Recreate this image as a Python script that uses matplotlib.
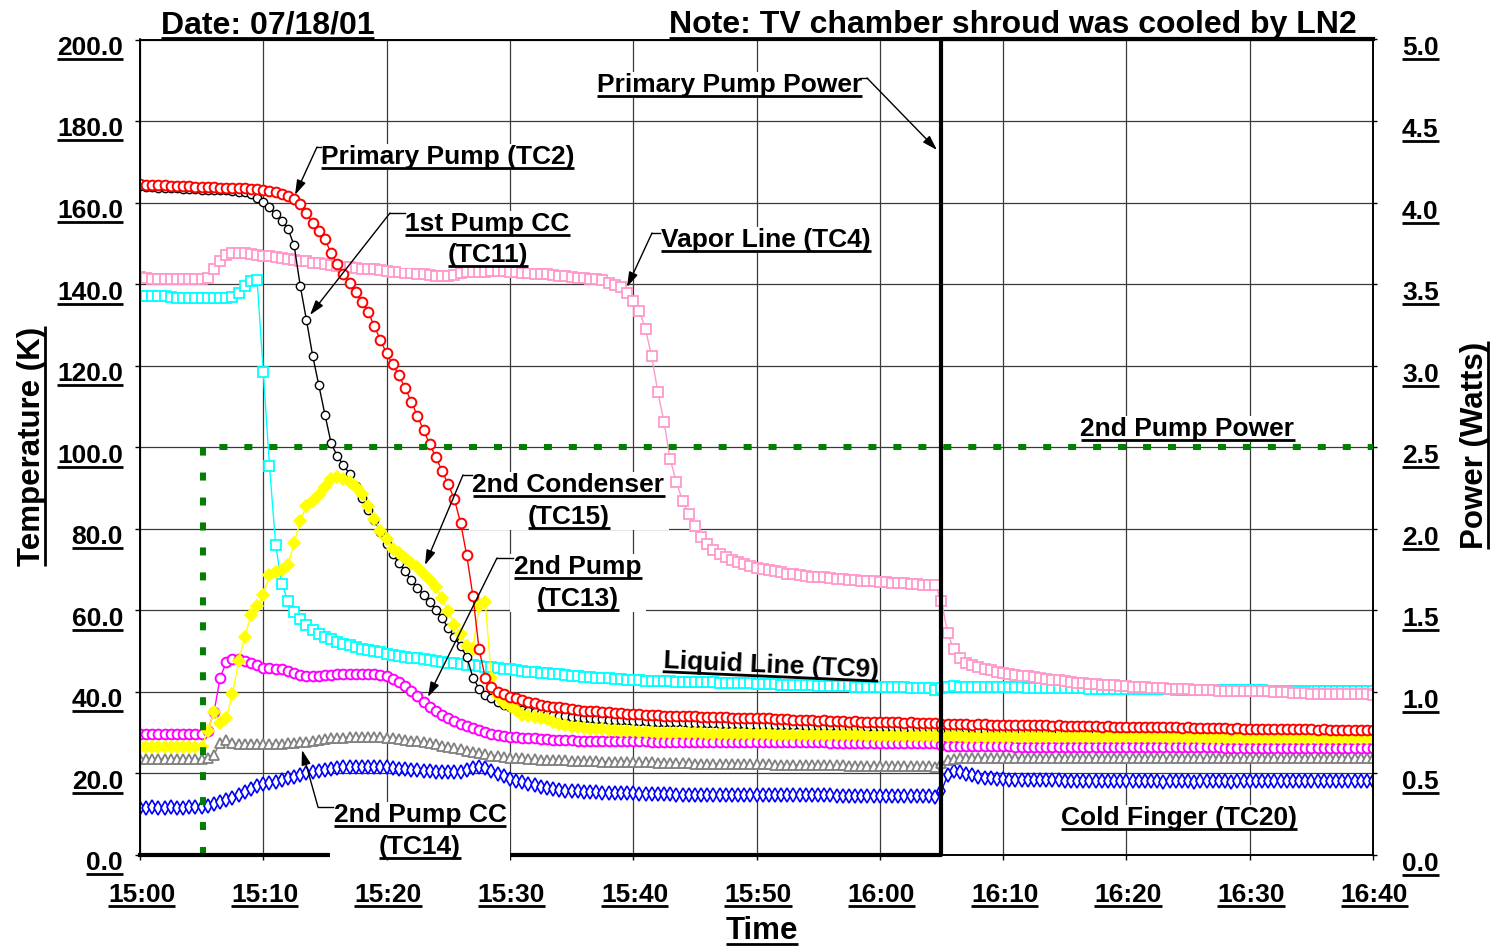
import numpy as np
import matplotlib
matplotlib.use("Agg")
import matplotlib.pyplot as plt
from matplotlib.lines import Line2D
from matplotlib.patches import Rectangle, FancyArrowPatch, ArrowStyle
from matplotlib.transforms import IdentityTransform, Bbox

W, H, DPI = 1492, 947, 100

# one reading every 30 s, minutes after 15:00
minutes = np.arange(0, 100.5, 0.5)

# Primary Pump (TC2)
tc2 = [
    164.5, 164.4, 164.3, 164.3, 164.2, 164.1, 164.0, 164.0, 164.0, 163.9, 163.9, 163.8, 163.8, 163.7, 163.7, 163.6, 163.6, 163.5, 163.4, 163.3,
    163.2, 162.9, 162.6, 162.2, 161.6, 160.8, 159.7, 157.4, 155.0, 153.0, 151.0, 147.6, 145.0, 142.6, 140.3, 138.0, 135.7, 133.2, 129.7, 126.3,
    123.0, 120.3, 117.6, 114.6, 111.2, 107.7, 104.2, 100.7, 97.5, 94.2, 90.9, 87.2, 81.5, 73.5, 63.5, 50.5, 43.5, 41.2, 40.0, 39.4,
    38.8, 38.4, 38.0, 37.6, 37.2, 36.9, 36.6, 36.4, 36.2, 36.0, 35.8, 35.6, 35.4, 35.3, 35.2, 35.1, 35.0, 34.9, 34.8, 34.7,
    34.6, 34.5, 34.4, 34.4, 34.3, 34.2, 34.1, 34.1, 34.0, 34.0, 34.0, 33.9, 33.9, 33.8, 33.9, 33.8, 33.7, 33.7, 33.6, 33.6,
    33.6, 33.5, 33.5, 33.4, 33.3, 33.4, 33.2, 33.2, 33.1, 33.0, 32.9, 33.0, 32.9, 32.8, 32.8, 32.7, 32.8, 32.7, 32.6, 32.6,
    32.6, 32.5, 32.6, 32.5, 32.4, 32.5, 32.4, 32.3, 32.4, 32.3, 32.1, 32.2, 32.2, 32.1, 32.1, 32.0, 32.2, 32.1, 32.0, 32.0,
    31.9, 32.0, 31.9, 31.9, 31.8, 31.9, 31.8, 31.8, 31.7, 31.8, 31.7, 31.7, 31.6, 31.7, 31.6, 31.6, 31.5, 31.6, 31.5, 31.5,
    31.5, 31.4, 31.5, 31.4, 31.4, 31.3, 31.4, 31.3, 31.3, 31.2, 31.3, 31.2, 31.2, 31.1, 31.2, 31.1, 31.1, 31.0, 31.1, 31.0,
    31.0, 31.0, 30.9, 31.0, 30.9, 30.9, 30.8, 30.9, 30.8, 30.8, 30.8, 30.7, 30.8, 30.7, 30.7, 30.7, 30.6, 30.7, 30.6, 30.6, 30.6,
]
# 1st Pump CC (TC11)
tc11 = [
    164.0, 163.9, 163.8, 163.7, 163.6, 163.5, 163.5, 163.4, 163.3, 163.3, 163.2, 163.2, 163.1, 163.0, 163.0, 162.9, 162.7, 162.5, 162.2, 161.2,
    160.1, 158.8, 157.1, 155.6, 153.6, 149.5, 139.5, 131.2, 122.5, 115.2, 108.0, 101.0, 97.8, 95.6, 93.5, 90.6, 87.6, 84.6, 82.2, 79.3,
    76.3, 73.8, 71.6, 69.6, 67.4, 65.5, 63.8, 62.0, 60.2, 58.1, 55.6, 53.5, 51.2, 48.6, 43.5, 40.8, 39.3, 38.4, 37.5, 36.9,
    36.3, 35.9, 35.6, 35.3, 35.0, 34.8, 34.6, 34.4, 34.2, 34.0, 33.9, 33.8, 33.6, 33.5, 33.4, 33.3, 33.2, 33.1, 33.0, 33.0,
    32.9, 32.8, 32.8, 32.7, 32.7, 32.6, 32.6, 32.5, 32.5, 32.4, 32.4, 32.3, 32.3, 32.3, 32.2, 32.2, 32.1, 32.1, 32.1, 32.0,
    32.0, 32.0, 31.9, 31.9, 31.9, 31.8, 31.8, 31.8, 31.7, 31.7, 31.7, 31.6, 31.6, 31.6, 31.5, 31.5, 31.5, 31.4, 31.4, 31.4,
    31.3, 31.3, 31.3, 31.2, 31.2, 31.2, 31.1, 31.1, 31.1, 31.0, 30.9, 31.0, 30.9, 30.9, 30.8, 30.8, 30.8, 30.7, 30.7, 30.7,
    30.6, 30.6, 30.6, 30.5, 30.5, 30.5, 30.4, 30.4, 30.4, 30.3, 30.3, 30.3, 30.2, 30.2, 30.2, 30.1, 30.1, 30.1, 30.0, 30.0,
    30.0, 30.0, 29.9, 29.9, 29.9, 29.9, 29.8, 29.8, 29.8, 29.8, 29.7, 29.7, 29.7, 29.7, 29.6, 29.6, 29.6, 29.6, 29.5, 29.5,
    29.5, 29.5, 29.5, 29.4, 29.4, 29.4, 29.4, 29.4, 29.3, 29.3, 29.3, 29.3, 29.3, 29.2, 29.2, 29.2, 29.2, 29.2, 29.1, 29.1, 29.1,
]
# Vapor Line (TC4)
tc4 = [
    141.7, 141.5, 141.3, 141.2, 141.2, 141.2, 141.2, 141.2, 141.2, 141.2, 141.3, 141.5, 143.6, 145.8, 147.2, 147.7, 147.7, 147.6, 147.4, 147.2,
    147.0, 146.8, 146.6, 146.4, 146.2, 146.0, 145.8, 145.6, 145.3, 145.1, 144.9, 144.7, 144.5, 144.3, 144.1, 144.0, 143.8, 143.7, 143.6, 143.4,
    143.3, 143.1, 143.0, 142.8, 142.7, 142.5, 142.4, 142.2, 142.1, 142.0, 141.9, 142.3, 142.8, 142.9, 143.0, 143.1, 143.1, 143.2, 143.2, 143.2,
    143.0, 142.9, 142.8, 142.7, 142.6, 142.5, 142.4, 142.2, 142.1, 141.9, 141.7, 141.5, 141.4, 141.3, 141.2, 140.9, 140.3, 139.8, 139.2, 137.8,
    135.8, 133.5, 128.9, 122.3, 113.5, 106.2, 97.0, 91.5, 86.9, 83.7, 80.6, 78.0, 76.2, 74.8, 73.9, 73.1, 72.4, 71.8, 71.3, 70.9,
    70.4, 70.1, 69.9, 69.6, 69.3, 69.0, 68.8, 68.6, 68.5, 68.3, 68.2, 68.1, 67.9, 67.8, 67.6, 67.5, 67.4, 67.3, 67.2, 67.1,
    67.0, 66.9, 66.8, 66.7, 66.6, 66.5, 66.4, 66.3, 66.2, 66.2, 62.3, 54.5, 50.4, 48.3, 47.2, 46.6, 46.0, 45.6, 45.3, 45.0,
    44.7, 44.5, 44.2, 44.0, 43.8, 43.6, 43.4, 43.2, 43.0, 42.8, 42.6, 42.5, 42.3, 42.2, 42.0, 41.9, 41.8, 41.7, 41.6, 41.5,
    41.4, 41.3, 41.2, 41.1, 41.0, 41.0, 40.9, 40.8, 40.7, 40.7, 40.6, 40.5, 40.5, 40.4, 40.4, 40.3, 40.3, 40.3, 40.2, 40.2,
    40.2, 40.1, 40.1, 40.1, 40.0, 40.0, 40.0, 39.7, 39.7, 39.7, 39.6, 39.6, 39.6, 39.6, 39.5, 39.5, 39.5, 39.5, 39.5, 39.4, 39.3,
]
# Liquid Line (TC9)
tc9 = [
    137.2, 137.2, 137.1, 137.1, 137.0, 136.8, 136.7, 136.7, 136.6, 136.6, 136.6, 136.6, 136.6, 136.6, 136.6, 136.8, 137.9, 139.6, 140.8, 140.9,
    118.5, 95.5, 76.1, 66.5, 62.3, 59.6, 57.8, 56.3, 55.2, 54.3, 53.5, 52.9, 52.3, 51.8, 51.4, 51.0, 50.6, 50.3, 50.0, 49.7,
    49.4, 49.1, 48.9, 48.6, 48.4, 48.2, 48.0, 47.8, 47.6, 47.4, 47.2, 47.0, 46.8, 46.6, 46.5, 46.3, 46.2, 46.0, 45.8, 45.7,
    45.5, 45.4, 45.2, 45.0, 44.9, 44.7, 44.6, 44.4, 44.3, 44.1, 44.0, 43.9, 43.7, 43.6, 43.5, 43.4, 43.3, 43.2, 43.1, 43.0,
    42.9, 42.8, 42.7, 42.7, 42.6, 42.6, 42.6, 42.5, 42.5, 42.5, 42.5, 42.4, 42.4, 42.4, 42.3, 42.3, 42.3, 42.2, 42.2, 42.2,
    42.0, 42.0, 41.9, 41.9, 41.8, 41.8, 41.7, 41.7, 41.6, 41.6, 41.5, 41.5, 41.5, 41.4, 41.4, 41.4, 41.3, 41.3, 41.3, 41.2,
    41.2, 41.2, 41.1, 41.1, 41.1, 41.0, 41.0, 41.0, 40.9, 40.4, 40.9, 41.3, 41.4, 41.3, 41.3, 41.3, 41.2, 41.2, 41.2, 41.2,
    41.1, 41.1, 41.1, 41.1, 41.0, 41.0, 41.0, 41.0, 41.0, 40.9, 40.9, 40.9, 40.9, 40.9, 40.8, 40.8, 40.8, 40.8, 40.7, 40.7,
    40.7, 40.7, 40.7, 40.6, 40.6, 40.6, 40.6, 40.6, 40.5, 40.5, 40.5, 40.5, 40.5, 40.5, 40.5, 40.4, 40.4, 40.4, 40.4, 40.4,
    40.4, 40.4, 40.4, 40.3, 40.3, 40.3, 40.3, 40.3, 40.3, 40.3, 40.3, 40.3, 40.3, 40.3, 40.3, 40.3, 40.3, 40.3, 40.3, 40.3, 40.3,
]
# 2nd Condenser (TC15)
tc15 = [
    26.6, 26.6, 26.5, 26.6, 26.6, 26.6, 26.5, 26.6, 26.6, 26.6, 26.6, 30.5, 35.0, 32.4, 33.5, 39.5, 47.5, 53.5, 58.8, 61.0,
    63.7, 68.7, 69.4, 69.8, 71.1, 76.5, 82.0, 85.7, 86.8, 88.3, 90.3, 92.1, 92.6, 92.3, 91.4, 90.3, 88.5, 85.5, 82.5, 79.5,
    77.5, 75.0, 74.0, 72.8, 71.6, 70.6, 69.0, 67.4, 65.8, 63.0, 59.8, 56.3, 54.3, 51.2, 50.5, 61.0, 62.0, 43.5, 39.0, 37.2,
    36.5, 35.5, 34.3, 34.0, 33.8, 33.5, 33.3, 32.6, 32.1, 31.8, 31.5, 31.3, 31.1, 31.0, 30.9, 30.8, 30.7, 30.6, 30.5, 30.4,
    30.3, 30.2, 30.1, 30.1, 30.0, 30.0, 29.9, 29.9, 29.9, 29.8, 29.8, 29.8, 29.7, 29.7, 29.7, 29.7, 29.6, 29.6, 29.6, 29.6,
    29.6, 29.6, 29.6, 29.5, 29.5, 29.5, 29.5, 29.5, 29.5, 29.5, 29.4, 29.4, 29.4, 29.4, 29.4, 29.4, 29.4, 29.4, 29.3, 29.3,
    29.3, 29.3, 29.3, 29.3, 29.3, 29.3, 29.3, 29.2, 29.2, 29.1, 29.0, 29.1, 29.1, 29.1, 29.0, 29.0, 29.0, 29.0, 29.0, 29.0,
    29.0, 29.0, 29.0, 29.0, 29.0, 29.0, 29.0, 28.9, 29.0, 29.0, 28.9, 29.0, 28.9, 28.9, 28.9, 28.9, 28.9, 28.9, 28.9, 28.9,
    28.9, 28.9, 28.9, 28.9, 28.9, 28.9, 28.9, 28.8, 28.9, 28.9, 28.8, 28.9, 28.8, 28.8, 28.8, 28.8, 28.8, 28.8, 28.8, 28.8,
    28.8, 28.8, 28.8, 28.8, 28.8, 28.8, 28.8, 28.8, 28.8, 28.8, 28.8, 28.8, 28.8, 28.8, 28.8, 28.8, 28.8, 28.8, 28.8, 28.8, 28.8,
]
# 2nd Pump (TC13)
tc13 = [
    29.6, 29.6, 29.6, 29.6, 29.6, 29.6, 29.6, 29.6, 29.6, 29.6, 29.7, 30.5, 35.0, 43.5, 47.3, 48.1, 48.0, 47.6, 47.2, 46.5,
    45.9, 45.8, 45.7, 45.6, 45.2, 44.6, 44.2, 44.0, 44.0, 44.0, 44.1, 44.2, 44.3, 44.4, 44.4, 44.5, 44.4, 44.4, 44.3, 44.1,
    43.8, 43.2, 42.4, 41.5, 40.2, 38.9, 37.6, 36.3, 35.3, 34.4, 33.6, 32.8, 32.2, 31.7, 31.1, 30.6, 30.1, 29.7, 29.4, 29.2,
    29.0, 28.9, 28.8, 28.7, 28.6, 28.5, 28.4, 28.3, 28.2, 28.1, 28.1, 28.0, 28.0, 27.9, 27.9, 27.9, 27.9, 27.9, 27.9, 27.9,
    27.9, 27.9, 27.9, 27.8, 27.8, 27.8, 27.8, 27.8, 27.8, 27.8, 27.8, 27.7, 27.7, 27.7, 27.7, 27.7, 27.7, 27.7, 27.7, 27.7,
    27.7, 27.7, 27.6, 27.6, 27.6, 27.6, 27.6, 27.6, 27.6, 27.6, 27.6, 27.6, 27.5, 27.5, 27.5, 27.5, 27.5, 27.5, 27.5, 27.5,
    27.5, 27.5, 27.5, 27.5, 27.5, 27.5, 27.4, 27.4, 27.4, 27.4, 26.9, 26.8, 26.8, 26.8, 26.8, 26.7, 26.7, 26.7, 26.7, 26.7,
    26.7, 26.7, 26.6, 26.6, 26.6, 26.6, 26.6, 26.6, 26.6, 26.6, 26.5, 26.5, 26.5, 26.5, 26.5, 26.5, 26.5, 26.5, 26.5, 26.5,
    26.5, 26.5, 26.4, 26.4, 26.4, 26.4, 26.4, 26.4, 26.4, 26.4, 26.4, 26.4, 26.4, 26.4, 26.4, 26.4, 26.3, 26.3, 26.3, 26.3,
    26.3, 26.3, 26.3, 26.3, 26.3, 26.3, 26.3, 26.3, 26.3, 26.3, 26.3, 26.2, 26.3, 26.3, 26.3, 26.3, 26.2, 26.3, 26.3, 26.3, 26.3,
]
# 2nd Pump CC (TC14)
tc14 = [
    23.6, 23.6, 23.6, 23.6, 23.6, 23.6, 23.6, 23.6, 23.6, 23.6, 23.6, 23.9, 24.6, 27.5, 28.2, 27.4, 27.2, 27.2, 27.2, 27.2,
    27.2, 27.2, 27.3, 27.3, 27.4, 27.5, 27.6, 27.8, 28.0, 28.2, 28.4, 28.6, 28.7, 28.8, 28.9, 28.9, 28.9, 28.9, 28.9, 28.9,
    28.8, 28.6, 28.4, 28.2, 28.0, 27.9, 27.7, 27.5, 27.2, 26.8, 26.5, 26.2, 25.9, 25.6, 25.3, 25.0, 24.7, 24.4, 24.2, 24.0,
    23.9, 23.8, 23.7, 23.6, 23.5, 23.4, 23.3, 23.3, 23.2, 23.2, 23.1, 23.1, 23.0, 23.0, 23.0, 22.9, 22.9, 22.9, 22.8, 22.8,
    22.8, 22.7, 22.7, 22.7, 22.6, 22.6, 22.6, 22.5, 22.5, 22.5, 22.4, 22.4, 22.4, 22.4, 22.3, 22.3, 22.3, 22.3, 22.2, 22.2,
    22.2, 22.2, 22.2, 22.1, 22.1, 22.1, 22.1, 22.1, 22.0, 22.0, 22.0, 22.0, 22.0, 22.0, 22.0, 21.9, 21.9, 21.9, 21.9, 21.9,
    21.9, 21.9, 21.8, 21.8, 21.8, 21.8, 21.8, 21.8, 21.8, 21.6, 22.6, 23.3, 23.6, 23.8, 23.9, 23.9, 23.9, 23.9, 23.9, 23.9,
    23.9, 23.9, 23.9, 23.9, 23.9, 23.8, 23.8, 23.8, 23.8, 23.8, 23.8, 23.8, 23.8, 23.8, 23.8, 23.8, 23.8, 23.8, 23.8, 23.8,
    23.8, 23.8, 23.8, 23.8, 23.7, 23.7, 23.7, 23.7, 23.7, 23.7, 23.7, 23.7, 23.7, 23.7, 23.7, 23.7, 23.7, 23.7, 23.7, 23.7,
    23.7, 23.7, 23.7, 23.7, 23.7, 23.7, 23.7, 23.7, 23.7, 23.7, 23.7, 23.7, 23.7, 23.7, 23.7, 23.7, 23.7, 23.7, 23.7, 23.7, 23.7,
]
# Cold Finger (TC20)
tc20 = [
    11.6, 11.6, 11.7, 11.6, 11.6, 11.7, 11.6, 11.6, 11.7, 11.7, 11.8, 12.0, 12.5, 13.0, 13.4, 14.0, 14.8, 15.5, 16.2, 16.8,
    17.3, 17.6, 18.0, 18.4, 18.8, 19.2, 19.6, 20.0, 20.3, 20.6, 20.9, 21.1, 21.3, 21.5, 21.6, 21.7, 21.7, 21.7, 21.6, 21.6,
    21.5, 21.4, 21.2, 21.1, 20.9, 20.8, 20.6, 20.5, 20.4, 20.3, 20.3, 20.4, 20.4, 20.8, 21.3, 21.7, 21.4, 20.6, 19.8, 19.3,
    18.7, 18.2, 17.8, 17.4, 17.1, 16.7, 16.4, 16.2, 16.0, 15.8, 15.7, 15.6, 15.5, 15.4, 15.4, 15.3, 15.3, 15.2, 15.2, 15.1,
    15.1, 15.0, 15.0, 15.0, 14.9, 14.9, 14.9, 14.8, 14.8, 14.8, 14.8, 14.8, 14.8, 14.7, 14.7, 14.7, 14.7, 14.7, 14.7, 14.7,
    14.7, 14.7, 14.6, 14.6, 14.6, 14.6, 14.6, 14.6, 14.6, 14.6, 14.6, 14.6, 14.6, 14.5, 14.5, 14.5, 14.5, 14.5, 14.5, 14.5,
    14.5, 14.5, 14.5, 14.5, 14.5, 14.4, 14.4, 14.4, 14.4, 14.3, 15.8, 19.5, 20.6, 20.3, 19.9, 19.5, 19.2, 19.0, 18.8, 18.7,
    18.6, 18.5, 18.5, 18.4, 18.4, 18.4, 18.3, 18.3, 18.3, 18.3, 18.2, 18.2, 18.2, 18.2, 18.2, 18.2, 18.2, 18.2, 18.1, 18.1,
    18.1, 18.1, 18.2, 18.1, 18.1, 18.1, 18.0, 18.1, 18.1, 18.1, 18.1, 18.0, 18.1, 18.1, 18.1, 18.1, 18.1, 18.0, 18.1, 18.1,
    18.1, 18.1, 18.1, 18.1, 18.1, 18.1, 18.1, 18.1, 18.1, 18.1, 18.1, 18.1, 18.1, 18.1, 18.1, 18.1, 18.1, 18.1, 18.1, 18.1, 18.1,
]

# heater power (W), right axis
pump1_t = [0, 65, 65, 100]
pump1_w = [0.0, 0.0, 5.0, 5.0]
pump2_t = [5.1, 5.1, 100]      # 2nd pump switched on at 15:05
pump2_w = [0.0, 2.5, 2.5]

time_ticks = [0, 10, 20, 30, 40, 50, 60, 70, 80, 90, 100]
time_labels = ["15:00", "15:10", "15:20", "15:30", "15:40", "15:50",
               "16:00", "16:10", "16:20", "16:30", "16:40"]
temp_ticks = [0, 20, 40, 60, 80, 100, 120, 140, 160, 180, 200]
power_ticks = [0.0, 0.5, 1.0, 1.5, 2.0, 2.5, 3.0, 3.5, 4.0, 4.5, 5.0]

plt.rcParams["font.family"] = ["Liberation Sans", "DejaVu Sans"]

fig = plt.figure(figsize=(W / DPI, H / DPI), dpi=DPI)
ax = fig.add_axes([140 / W, (H - 855) / H, 1233 / W, (855 - 39.5) / H])
ax2 = ax.twinx()

ax.set_xlim(0, 100)
ax.set_ylim(0, 200)
ax2.set_ylim(0, 5)
ax.set_xticks(time_ticks)
ax.set_yticks(temp_ticks)
ax2.set_yticks(power_ticks)
ax.grid(True, color="#3a3a3a", lw=0.9)
ax.set_axisbelow(True)
ax.tick_params(axis="both", direction="out", length=3.5, width=1,
               labelleft=False, labelbottom=False)
ax2.tick_params(axis="y", direction="out", length=3, width=1, labelright=False)
for a in (ax, ax2):
    for sp in a.spines.values():
        sp.set_linewidth(1.2)
        sp.set_color("black")

series = [  # drawn bottom to top
    (tc20, "#0000FF", "d", 7.5, "white", 1.2),
    (tc14, "#808080", "^", 7.5, "white", 1.3),
    (tc13, "#FF00FF", "o", 7.0, "white", 1.4),
    (tc9, "#00FFFF", "s", 6.5, "white", 1.3),
    (tc4, "#FF99CC", "s", 6.5, "white", 1.3),
    (tc11, "#000000", "o", 6.0, "white", 1.0),
    (tc15, "#FFFF00", "D", 6.5, "#FFFF00", 1.2),
    (tc2, "#FF0000", "o", 7.0, "white", 1.4),
]
for vals, color, marker, ms, face, mew in series:
    ax.plot(minutes, vals, color=color, lw=1.0, marker=marker, ms=ms,
            mfc=face, mec=color, mew=mew)

ax2.plot(pump2_t, pump2_w, color="#008000", lw=4.3, linestyle=(0, (1.34, 2.84)),
         zorder=3, clip_on=False)
ax2.plot(pump1_t, pump1_w, color="black", lw=3.0, zorder=4, clip_on=False)

ident = IdentityTransform()
texts = []
boxes = []


def em(size):
    return size * DPI / 72.0


def put(x, y, s, size=19, ha="center", rot=0.0, under=True):
    # (x, y): visual centre of the capitals, image pixels, origin top left
    th = np.deg2rad(rot)
    d = 0.358 * em(size)
    bx = x + d * np.sin(th)
    by = (H - y) - d * np.cos(th)
    t = ax2.text(bx, by, s, transform=ident, fontsize=size, fontweight="bold",
                 ha=ha, va="baseline", rotation=rot, rotation_mode="anchor",
                 zorder=8, clip_on=False)
    texts.append((t, ha, th, under))
    return t


def leader(p0, p1, tip):
    ln = Line2D([p0[0], p1[0]], [H - p0[1], H - p1[1]], transform=ident,
                color="black", lw=1.0, zorder=9)
    ax2.add_artist(ln)
    ln.set_clip_on(False)
    arr = FancyArrowPatch((p1[0], H - p1[1]), (tip[0], H - tip[1]), transform=ident,
                          arrowstyle=ArrowStyle("-|>", head_length=0.45, head_width=0.14),
                          mutation_scale=20, color="black", lw=1.0,
                          shrinkA=0, shrinkB=0, zorder=9)
    ax2.add_artist(arr)
    arr.set_clip_on(False)


# tick labels, placed from the axes' own transforms
for v in temp_ticks:
    X, Y = ax.transData.transform((0, v))
    put(X - 17, H - Y + 6, f"{v:.1f}", ha="right")
for p in power_ticks:
    X, Y = ax2.transData.transform((100, p))
    put(X + 29, H - Y + 6.5, f"{p:.1f}", ha="left")
for m, lab in zip(time_ticks, time_labels):
    X, Y = ax.transData.transform((m, 0))
    put(X + 1.5, H - Y + 38, lab)

# titles
put(267.5, 22, "Date: 07/18/01", size=23)
put(1012.5, 22, "Note: TV chamber shroud was cooled by LN2", size=23)
put(29, 446, "Temperature (K)", size=22.5, rot=90)
put(1472, 445, "Power (Watts)", size=22.5, rot=90)
put(762, 928, "Time", size=22.5)

# series labels
boxes.append([put(729.5, 83, "Primary Pump Power")])
leader((860, 78), (867, 78), (937, 150))

boxes.append([put(447.5, 155, "Primary Pump (TC2)")])
leader((321, 147), (317, 147), (295, 195))

boxes.append([put(487.5, 222, "1st Pump CC"), put(488, 253, "(TC11)")])
leader((405, 213), (390, 213), (310, 315))

boxes.append([put(766, 238, "Vapor Line (TC4)")])
leader((660, 233), (652, 233), (627, 287))

boxes.append([put(1187.5, 427, "2nd Pump Power")])

boxes.append([put(568.5, 483, "2nd Condenser"), put(568.5, 515, "(TC15)")])
leader((472, 475), (463, 475), (425, 565))

boxes.append([put(578, 565, "2nd Pump"), put(578, 597, "(TC13)")])
leader((513, 558), (497, 558), (428, 697))

put(771, 663, "Liquid Line (TC9)", rot=-2.5)

boxes.append([put(420, 813, "2nd Pump CC"), put(420, 845, "(TC14)")])
leader((333, 807), (318, 807), (302, 750))

boxes.append([put(1179, 816, "Cold Finger (TC20)")])

fig.canvas.draw()
renderer = fig.canvas.get_renderer()

for group in boxes:
    bb = Bbox.union([t.get_window_extent(renderer) for t in group])
    rect = Rectangle((bb.x0 - 4, bb.y0 - 1), bb.width + 8, bb.height + 2,
                     transform=ident, facecolor="white", edgecolor="none", zorder=6)
    ax2.add_artist(rect)
    rect.set_clip_on(False)

for t, ha, th, under in texts:
    if not under:
        continue
    w = renderer.get_text_width_height_descent(t.get_text(), t.get_fontproperties(),
                                               ismath=False)[0]
    size_px = em(t.get_fontsize())
    ax_, ay_ = t.get_position()
    ux, uy = np.cos(th), np.sin(th)
    nx, ny = np.sin(th), -np.cos(th)
    off = 0.15 * size_px
    a, b = {"center": (-w / 2, w / 2), "right": (-w, 0), "left": (0, w)}[ha]
    xs = [ax_ + nx * off + ux * a, ax_ + nx * off + ux * b]
    ys = [ay_ + ny * off + uy * a, ay_ + ny * off + uy * b]
    ln = Line2D(xs, ys, transform=ident, color="black", lw=2.0,
                solid_capstyle="butt", zorder=8)
    ax2.add_artist(ln)
    ln.set_clip_on(False)

fig.savefig("out.png", dpi=DPI, facecolor="white")
